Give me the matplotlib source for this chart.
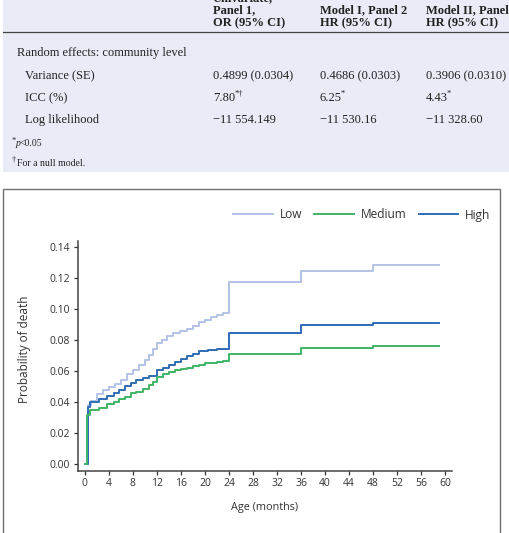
import matplotlib
matplotlib.use("Agg")
import matplotlib.pyplot as plt
from matplotlib.patches import Rectangle

# ---------------------------------------------------------------
# Data
# ---------------------------------------------------------------
months_low = [0, 0.5, 1, 2, 3, 4, 5, 6, 7, 8, 9, 10, 10.7, 11.3, 12, 12.8,
              13.6, 14.6, 15.8, 17, 18, 19, 20, 21, 22, 23, 24, 36, 48, 59]
prob_low = [0, 0.038, 0.041, 0.045, 0.048, 0.050, 0.052, 0.054, 0.058, 0.061,
            0.064, 0.067, 0.0705, 0.0744, 0.078, 0.080, 0.0824, 0.0848, 0.086,
            0.0872, 0.089, 0.0913, 0.093, 0.0945, 0.096, 0.0973, 0.117,
            0.1246, 0.1283, 0.1283]

months_med = [0, 0.4, 0.9, 2.4, 3.7, 4.8, 5.7, 6.7, 7.6, 8.5, 9.6, 10.7, 11.3,
              12, 13, 14, 15, 16, 17, 18, 19, 20, 21, 22, 23, 24, 36, 48, 59]
prob_med = [0, 0.0317, 0.035, 0.0364, 0.0386, 0.0403, 0.0418, 0.0435, 0.0457,
            0.0467, 0.0483, 0.051, 0.053, 0.0565, 0.058, 0.0595, 0.0605,
            0.0615, 0.062, 0.063, 0.064, 0.065, 0.0655, 0.066, 0.0665, 0.071,
            0.075, 0.0763, 0.0763]

months_high = [0, 0.5, 0.9, 2.4, 3.7, 4.8, 5.7, 6.7, 7.6, 8.5, 9.6, 10.7, 12,
               13, 14, 15, 16, 17, 18, 19, 20.5, 22, 24, 36, 48, 59]
prob_high = [0, 0.0371, 0.0403, 0.0418, 0.044, 0.0457, 0.0478, 0.0504, 0.0525,
             0.054, 0.0558, 0.0568, 0.0607, 0.062, 0.064, 0.066, 0.0675,
             0.0695, 0.0713, 0.073, 0.0737, 0.0744, 0.0843, 0.0899, 0.0907,
             0.0907]

x_ticks = list(range(0, 61, 4))
y_ticks = [0.00, 0.02, 0.04, 0.06, 0.08, 0.10, 0.12, 0.14]

# table snippet above the chart
col_heads = [["Univariate,", "Panel 1,", "OR (95% CI)"],
             ["", "Model I, Panel 2", "HR (95% CI)"],
             ["", "Model II, Panel", "HR (95% CI)"]]
row_names = ["Variance (SE)", "ICC (%)", "Log likelihood"]
row_vals = [["0.4899 (0.0304)", "0.4686 (0.0303)", "0.3906 (0.0310)"],
            ["7.80", "6.25", "4.43"],
            ["\u221211 554.149", "\u221211 530.16", "\u221211 328.60"]]
row_sups = [["", "", ""], ["*\u2020", "*", "*"], ["", "", ""]]

C_LOW = "#b3c2e6"
C_MED = "#3fb465"
C_HIGH = "#2f6db3"
INK = "#222222"

# ---------------------------------------------------------------
W, H = 510, 533
fig = plt.figure(figsize=(W / 100, H / 100), dpi=100)
renderer = fig.canvas.get_renderer()

# background axes in pixel coordinates
bg = fig.add_axes([0, 0, 1, 1])
bg.set_xlim(0, W)
bg.set_ylim(H, 0)
bg.axis("off")

bg.add_patch(Rectangle((3, -5), W, 177, facecolor="#e9ebf6", edgecolor="none"))
bg.plot([3, W], [32, 32], color="#444444", lw=0.9)

serif = "Liberation Serif"
col_x = [213, 320, 426]
for cx, heads in zip(col_x, col_heads):
    for j, t in enumerate(heads):
        if t:
            bg.text(cx, -2 + j * 12.5, t, family=serif, fontsize=9,
                    fontweight="bold", va="center", ha="left", color=INK)

bg.text(17, 53, "Random effects: community level", family=serif, fontsize=9,
        va="center", color=INK)
for i, name in enumerate(row_names):
    yy = 76 + i * 22
    bg.text(25, yy, name, family=serif, fontsize=9, va="center", color=INK)
    for k, cx in enumerate(col_x):
        tx = bg.text(cx, yy, row_vals[i][k], family=serif, fontsize=9,
                     va="center", color=INK)
        if row_sups[i][k]:
            wpx = tx.get_window_extent(renderer).width
            bg.text(cx + wpx - 1.0, yy - 4, row_sups[i][k], family=serif,
                    fontsize=6, va="center", color=INK)

bg.text(12, 141, "*", family=serif, fontsize=6, va="center", color=INK)
bg.text(15.5, 144, "p", family=serif, fontsize=7, style="italic", va="center",
        color=INK)
bg.text(20, 144, "<0.05", family=serif, fontsize=7, va="center", color=INK)
bg.text(12, 160, "\u2020", family=serif, fontsize=6, va="center", color=INK)
bg.text(17, 163, "For a null model.", family=serif, fontsize=7, va="center",
        color=INK)

# chart frame
bg.add_patch(Rectangle((3, 189), 497, 360, facecolor="white",
                       edgecolor="#707070", lw=1.0))

# ---------------------------------------------------------------
# Cumulative probability chart
# ---------------------------------------------------------------
plt.rcParams["font.family"] = ["Open Sans", "DejaVu Sans"]
ax = fig.add_axes([77.7 / W, 1 - 470.7 / H, 374 / W, 229.7 / H])

ax.step(months_low, prob_low, where="post", color=C_LOW, lw=1.4, label="Low")
ax.step(months_high, prob_high, where="post", color=C_HIGH, lw=1.4, label="High")
ax.step(months_med, prob_med, where="post", color=C_MED, lw=1.4, label="Medium")

ax.set_xlim(-1.2, 61.1)
ax.set_ylim(-0.0041, 0.1437)
ax.set_xticks(x_ticks)
ax.set_yticks(y_ticks)
ax.set_yticklabels([f"{v:.2f}" for v in y_ticks])

for s in ["top", "right"]:
    ax.spines[s].set_visible(False)
for s in ["left", "bottom"]:
    ax.spines[s].set_color("#444444")
    ax.spines[s].set_linewidth(1.1)
ax.tick_params(axis="both", labelsize=7.5, colors="#333333", length=3,
               width=0.9, pad=2.5)

ax.set_xlabel("Age (months)", fontsize=7.8, color="#333333")
ax.set_ylabel("Probability of death", fontsize=8.5, color="#333333")
ax.xaxis.set_label_coords(0.5, -0.135)
ax.yaxis.set_label_coords(-0.125, 0.53)

handles, labels = ax.get_legend_handles_labels()
order = [labels.index("Low"), labels.index("Medium"), labels.index("High")]
fig.legend([handles[i] for i in order], [labels[i] for i in order],
           loc="center", bbox_to_anchor=(362 / W, 1 - 215 / H), ncol=3,
           frameon=False, fontsize=8.6, handlelength=3.3, handletextpad=0.6,
           columnspacing=1.0, labelcolor="#333333")

fig.savefig("out.png", dpi=100)
